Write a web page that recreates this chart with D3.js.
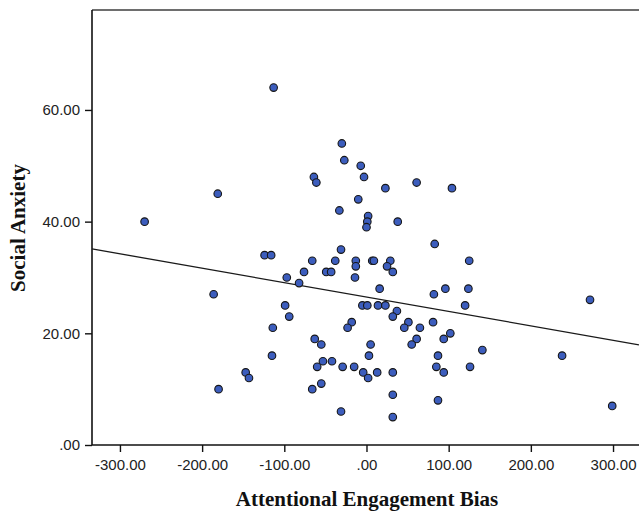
<!DOCTYPE html>
<html>
<head>
<meta charset="utf-8">
<script src="https://cdn.jsdelivr.net/npm/d3@7"></script>
<style>
  body { margin: 0; background: #fff; }
  svg { display: block; }
</style>
</head>
<body>
<svg id="chart" width="639" height="513"></svg>
<script>
// attentional engagement bias (x) and social anxiety (y)
const biasValues = [
  -113, -270, -181, -186, -180, -147, -143, -124, -116, -97,
  -82, -76, -99, -94, -114, -115, -66, -63, -60, -66,
  -64, -61, -30, -27, -7, -3, 23, 61, 104, -10,
  -33, 2, 1, 0, 38, -31, 83, -38, -13, 7,
  9, 29, 125, -13, 25, 32, -49, -43, -14, 16,
  96, 124, 82, -5, 1, 14, 23, 120, 37, 32,
  -18, -23, 51, 46, 65, 81, 102, 61, 94, 55,
  -55, 5, 3, 87, 141, -53, -42, -29, -15, 85,
  126, -4, 13, 32, 94, 2, -55, 32, 87, -31,
  32, 272, 238, 299
];
const anxietyValues = [
  64, 40, 45, 27, 10, 13, 12, 34, 34, 30,
  29, 31, 25, 23, 21, 16, 10, 19, 14, 33,
  48, 47, 54, 51, 50, 48, 46, 47, 46, 44,
  42, 41, 40, 39, 40, 35, 36, 33, 33, 33,
  33, 33, 33, 32, 32, 31, 31, 31, 30, 28,
  28, 28, 27, 25, 25, 25, 25, 25, 24, 23,
  22, 21, 22, 21, 21, 22, 20, 19, 19, 18,
  18, 18, 16, 16, 17, 15, 15, 14, 14, 14,
  14, 13, 13, 13, 13, 12, 11, 9, 8, 6,
  5, 26, 16, 7
];

const xTicks = [-300, -200, -100, 0, 100, 200, 300];
const yTicks = [0, 20, 40, 60];

// linear fit line shown on the chart
const fitIntercept = 26.5;
const fitSlope = -0.0258;

const svg = d3.select('#chart');
const width = +svg.attr('width');
const height = +svg.attr('height');

const plotLeft = 92, plotTop = 10, plotBottom = 445, plotRight = 639;

const x = d3.scaleLinear().domain([-334, 331.6]).range([plotLeft, plotRight]);
const y = d3.scaleLinear().domain([0, 77.9]).range([plotBottom, plotTop]);

// SPSS style: ".00", "-300.00" with a plain hyphen
const fmt = v => d3.format('.2f')(v).replace('\u2212', '-').replace(/^(-?)0\./, '$1.');

// top frame line
svg.append('line')
    .attr('x1', plotLeft).attr('x2', width + 5)
    .attr('y1', plotTop).attr('y2', plotTop)
    .attr('stroke', '#6e6e6e')
    .attr('stroke-width', 2);

// x axis
const xAxis = svg.append('g')
    .attr('transform', 'translate(0,' + plotBottom + ')')
    .call(d3.axisBottom(x).tickValues(xTicks).tickSize(7).tickSizeOuter(0).tickFormat(fmt));

// y axis
const yAxis = svg.append('g')
    .attr('transform', 'translate(' + plotLeft + ',0)')
    .call(d3.axisLeft(y).tickValues(yTicks).tickSize(7).tickSizeOuter(0).tickFormat(fmt));

[xAxis, yAxis].forEach(g => {
    g.select('.domain').attr('stroke', '#111').attr('stroke-width', 1.6);
    g.selectAll('.tick line').attr('stroke', '#111').attr('stroke-width', 1.4);
    g.selectAll('.tick text')
        .attr('fill', '#222')
        .style('font-family', '"Liberation Sans", Arial, sans-serif')
        .style('font-size', '15px');
});
xAxis.select('.domain').attr('d', 'M' + plotLeft + ',0H' + (width + 5));
xAxis.selectAll('.tick text').attr('y', 14).attr('dy', '0.71em');
yAxis.select('.domain').attr('d', 'M0,' + plotTop + 'V' + plotBottom);
yAxis.selectAll('.tick text').attr('x', -12);

// fit line
const fitX = x.domain();
svg.append('line')
    .attr('x1', x(fitX[0])).attr('y1', y(fitIntercept + fitSlope * fitX[0]))
    .attr('x2', x(fitX[1])).attr('y2', y(fitIntercept + fitSlope * fitX[1]))
    .attr('stroke', '#1a1a1a')
    .attr('stroke-width', 1.3);

// points
svg.append('g')
    .selectAll('circle')
    .data(biasValues.map((b, i) => ({ b: b, a: anxietyValues[i] })))
    .enter()
    .append('circle')
    .attr('cx', d => x(d.b))
    .attr('cy', d => y(d.a))
    .attr('r', 3.8)
    .attr('fill', '#3c5dbd')
    .attr('stroke', '#161616')
    .attr('stroke-width', 1.1);

// axis titles
svg.append('text')
    .attr('x', 367)
    .attr('y', 506)
    .attr('text-anchor', 'middle')
    .style('font-family', '"Liberation Serif", "Times New Roman", serif')
    .style('font-weight', 'bold')
    .style('font-size', '21px')
    .attr('fill', '#111')
    .text('Attentional Engagement Bias');

svg.append('text')
    .attr('transform', 'translate(25,228) rotate(-90)')
    .attr('text-anchor', 'middle')
    .style('font-family', '"Liberation Serif", "Times New Roman", serif')
    .style('font-weight', 'bold')
    .style('font-size', '21px')
    .attr('fill', '#111')
    .text('Social Anxiety');
</script>
</body>
</html>
